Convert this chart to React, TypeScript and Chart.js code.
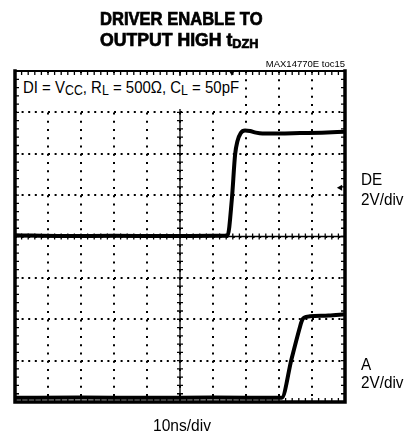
import React, { useEffect, useRef } from "react";
import { Chart, registerables } from "chart.js";

Chart.register(...registerables);

// ---- data (time in divisions of 10 ns, level in divisions of 2 V) ----
const X_DIVS = 10;
const Y_DIVS = 8;
const deTime = [0, 1.5, 3, 4.5, 6, 6.44, 6.57, 6.67, 6.74, 6.84, 6.97, 7.12, 7.3, 7.5, 8.0, 8.64, 9.3, 10];
const deLevel = [4.03, 4.01, 4.02, 4.01, 4.02, 4.02, 4.89, 5.98, 6.3, 6.5, 6.56, 6.55, 6.51, 6.49, 6.49, 6.5, 6.51, 6.53];
const aTime = [0, 2, 4, 6, 8.08, 8.38, 8.62, 8.69, 8.76, 8.94, 9.5, 10];
const aLevel = [0.1, 0.11, 0.1, 0.11, 0.1, 1.04, 1.77, 1.96, 2.04, 2.07, 2.09, 2.12];
const triggerMarker = [{ x: 6.57, y: 7.97 }];
const deRefMarker = [{ x: 9.86, y: 5.18 }];

const FONT = '"Liberation Sans", Arial, Helvetica, sans-serif';

function toPoints(xs: number[], ys: number[]) {
  return xs.map((x, i) => ({ x, y: ys[i] }));
}

const scopePlugin = {
  id: "scopeDecor",
  beforeDatasetsDraw(chart: any) {
    const { ctx, chartArea, scales } = chart;
    const xs = scales.x;
    const ys = scales.y;
    ctx.save();
    ctx.strokeStyle = "#000";
    ctx.lineWidth = 1.3;
    const cx = xs.getPixelForValue(X_DIVS / 2);
    const cy = ys.getPixelForValue(Y_DIVS / 2);
    ctx.beginPath();
    for (let k = 0; k <= Y_DIVS * 5; k++) {
      const py = ys.getPixelForValue(k / 5);
      ctx.moveTo(cx - 3, py);
      ctx.lineTo(cx + 3, py);
    }
    for (let k = 0; k <= X_DIVS * 5; k++) {
      const px = xs.getPixelForValue(k / 5);
      ctx.moveTo(px, cy - 3);
      ctx.lineTo(px, cy + 3);
    }
    ctx.moveTo(cx, chartArea.top);
    ctx.lineTo(cx, chartArea.bottom);
    ctx.moveTo(chartArea.left, cy);
    ctx.lineTo(chartArea.right, cy);
    ctx.stroke();
    ctx.restore();
  },
  afterDatasetsDraw(chart: any) {
    const { ctx, chartArea, scales } = chart;
    const xs = scales.x;
    const ys = scales.y;
    const { left, right, top, bottom } = chartArea;
    ctx.save();
    ctx.strokeStyle = "#000";
    ctx.lineWidth = 1.3;
    ctx.beginPath();
    for (let k = 0; k <= X_DIVS * 5; k++) {
      const px = xs.getPixelForValue(k / 5);
      ctx.moveTo(px, top);
      ctx.lineTo(px, top + 4);
      ctx.moveTo(px, bottom);
      ctx.lineTo(px, bottom - 4);
    }
    for (let k = 0; k <= Y_DIVS * 5; k++) {
      const py = ys.getPixelForValue(k / 5);
      ctx.moveTo(left, py);
      ctx.lineTo(left + 4, py);
      ctx.moveTo(right, py);
      ctx.lineTo(right - 4, py);
    }
    ctx.stroke();
    ctx.lineCap = "square";
    ctx.lineWidth = 2;
    ctx.beginPath();
    ctx.moveTo(left, top);
    ctx.lineTo(right, top);
    ctx.stroke();
    ctx.lineWidth = 3.5;
    ctx.beginPath();
    ctx.moveTo(left, top);
    ctx.lineTo(left, bottom);
    ctx.lineTo(right, bottom);
    ctx.lineTo(right, top);
    ctx.stroke();
    ctx.restore();
  },
};

type LabelProps = {
  x: number;
  baseline: number;
  size: number;
  bold?: boolean;
  scale?: number;
  align?: "left" | "right";
  children: React.ReactNode;
};

function Label({ x, baseline, size, bold, scale = 1, align = "left", children }: LabelProps) {
  const top = baseline - 0.8465 * size;
  const style: React.CSSProperties = {
    position: "absolute",
    top,
    fontFamily: FONT,
    fontSize: size,
    lineHeight: `${size}px`,
    fontWeight: bold ? 700 : 400,
    whiteSpace: "nowrap",
    color: "#000",
    transform: `scaleX(${scale})`,
    transformOrigin: align === "left" ? "left top" : "right top",
  };
  if (bold) (style as any).WebkitTextStroke = "0.7px #000";
  if (align === "left") style.left = x;
  else style.right = 420 - x;
  return <div style={style}>{children}</div>;
}

function Sub({ size, drop, children }: { size: number; drop: number; children: React.ReactNode }) {
  return (
    <span style={{ fontSize: size, lineHeight: 0, verticalAlign: -drop, position: "relative" }}>
      {children}
    </span>
  );
}

export default function App() {
  const canvasRef = useRef<HTMLCanvasElement | null>(null);

  useEffect(() => {
    if (!canvasRef.current) return;
    const chart = new Chart(canvasRef.current, {
      type: "line",
      data: {
        datasets: [
          {
            label: "DE",
            data: toPoints(deTime, deLevel),
            borderColor: "#000",
            borderWidth: 4,
            pointRadius: 0,
            cubicInterpolationMode: "monotone",
            fill: false,
          },
          {
            label: "A",
            data: toPoints(aTime, aLevel),
            borderColor: "#000",
            borderWidth: 4,
            pointRadius: 0,
            cubicInterpolationMode: "monotone",
            fill: false,
          },
          {
            type: "scatter",
            label: "trigger",
            data: triggerMarker,
            pointStyle: "triangle",
            rotation: 180,
            pointRadius: 3.5,
            backgroundColor: "#000",
            borderColor: "#000",
            borderWidth: 0,
            clip: false,
          } as any,
          {
            type: "scatter",
            label: "ref",
            data: deRefMarker,
            pointStyle: "triangle",
            rotation: 270,
            pointRadius: 3.5,
            backgroundColor: "#000",
            borderColor: "#000",
            borderWidth: 0,
            clip: false,
          } as any,
        ],
      },
      options: {
        responsive: false,
        animation: false,
        devicePixelRatio: 1,
        layout: { padding: { left: 15, top: 71, right: 75, bottom: 34 } },
        plugins: { legend: { display: false }, tooltip: { enabled: false }, title: { display: false } },
        scales: {
          x: {
            type: "linear",
            min: 0,
            max: X_DIVS,
            ticks: { display: false, stepSize: 1 },
            grid: { color: "#000", lineWidth: 2, drawTicks: false },
            border: { display: false, dash: [2, 6.28] },
          },
          y: {
            type: "linear",
            min: 0,
            max: Y_DIVS,
            ticks: { display: false, stepSize: 1 },
            grid: { color: "#000", lineWidth: 2, drawTicks: false },
            border: { display: false, dash: [2, 4.6] },
          },
        },
      },
      plugins: [scopePlugin],
    });
    return () => chart.destroy();
  }, []);

  return (
    <div style={{ position: "absolute", left: 0, top: 0, width: 420, height: 436, background: "#fff" }}>
      <canvas ref={canvasRef} width={420} height={436} style={{ position: "absolute", left: 0, top: 0 }} />
      <Label x={99.5} baseline={25.5} size={18} bold scale={0.92}>
        DRIVER ENABLE TO
      </Label>
      <Label x={99.5} baseline={46.5} size={18} bold scale={0.98}>
        OUTPUT HIGH t<Sub size={13} drop={1.5}>DZH</Sub>
      </Label>
      <Label x={345} baseline={66.7} size={9.5} align="right">
        MAX14770E toc15
      </Label>
      <div style={{ position: "absolute", left: 19, top: 76, width: 222, height: 33, background: "#fff" }} />
      <Label x={23.3} baseline={93.3} size={17} scale={0.88}>
        DI = V<Sub size={14} drop={2}>CC</Sub>, R<Sub size={14} drop={2}>L</Sub> = 500Ω, C
        <Sub size={14} drop={2}>L</Sub> = 50pF
      </Label>
      <Label x={360.5} baseline={185} size={17} scale={0.9}>
        DE
      </Label>
      <Label x={360.5} baseline={205} size={17} scale={0.9}>
        2V/div
      </Label>
      <Label x={360.5} baseline={370} size={17} scale={0.9}>
        A
      </Label>
      <Label x={360.5} baseline={388} size={17} scale={0.9}>
        2V/div
      </Label>
      <Label x={152.7} baseline={431.7} size={17} scale={0.916}>
        10ns/div
      </Label>
    </div>
  );
}
